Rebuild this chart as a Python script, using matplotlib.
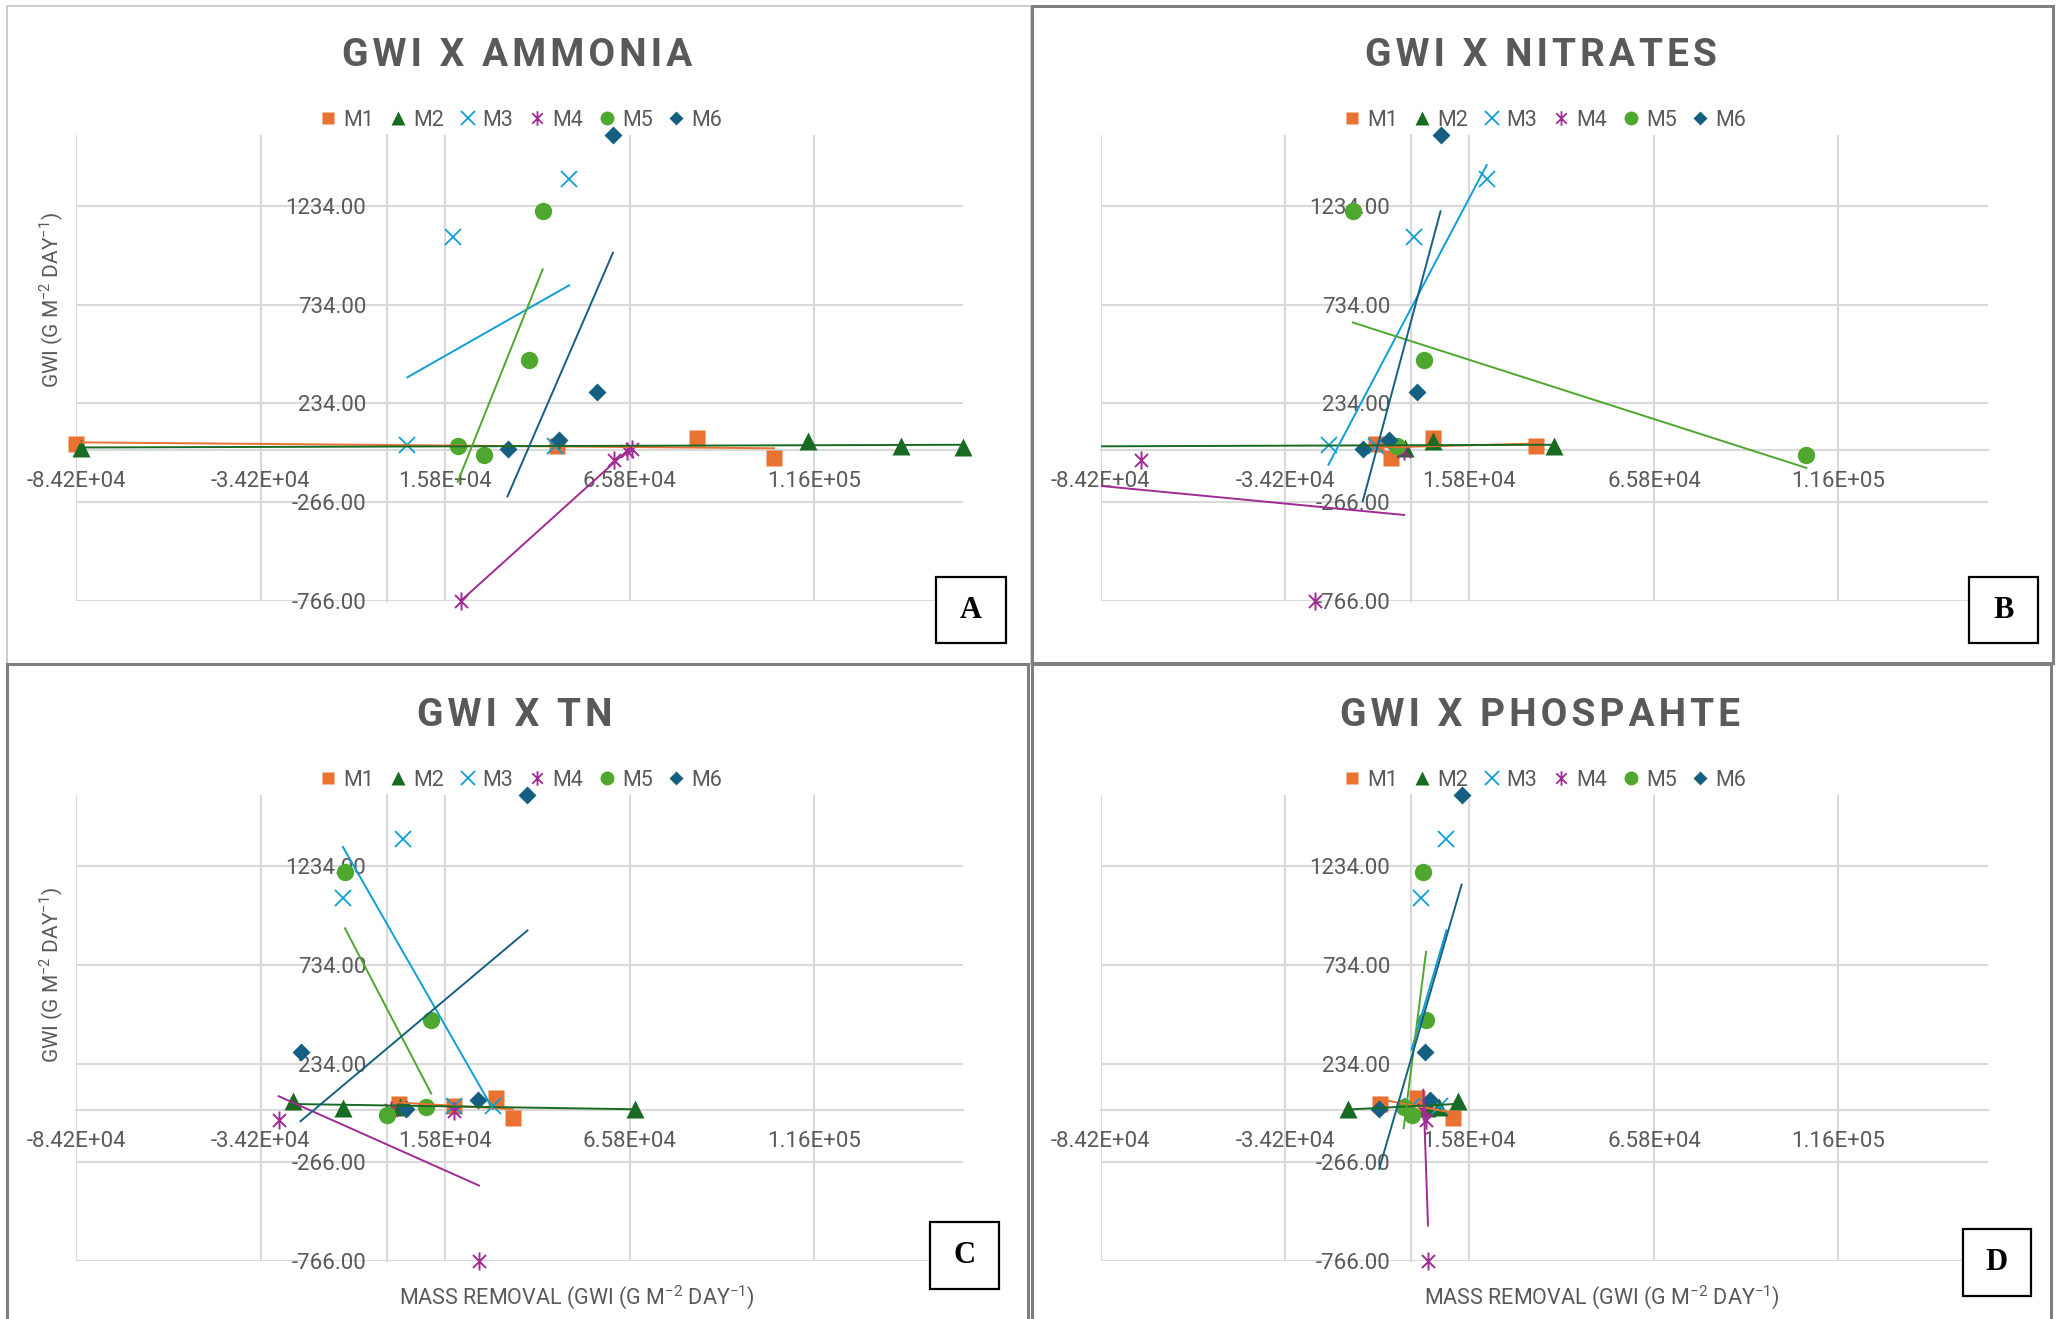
import numpy as np
import matplotlib
matplotlib.use('Agg')
import matplotlib.pyplot as plt
from matplotlib.lines import Line2D
from matplotlib.patches import Rectangle
from matplotlib.path import Path

plt.rcParams['font.family'] = ['Roboto', 'DejaVu Sans']
plt.rcParams['mathtext.fontset'] = 'custom'
plt.rcParams['mathtext.rm'] = 'Roboto'

W, H = 2063, 1319
TXT = '#595959'
GRID = '#d9d9d9'

series = ['M1', 'M2', 'M3', 'M4', 'M5', 'M6']
colors = ['#E97132', '#196B24', '#0F9ED5', '#A02B93', '#4EA72E', '#156082']

# GWI of the four runs of each series (same in every panel)
gwi = [[30, 20, 61, -41],
       [7, 46, 17, 11],
       [1074, 1370, 22, 20],
       [-766, -52, -8, 2],
       [1206, 455, 17, -27],
       [1595, 292, 48, 5]]

# mass removal, one row per series (M1..M6)
ammonia_x = [[-84200, 46155, 83913, 104950],
             [-82940, 114120, 139300, 156200],
             [17926, 49391, 5520, 45440],
             [20084, 61438, 65034, 66300],
             [42200, 38424, 19185, 26197],
             [61258, 56943, 46694, 32670]]
nitrates_x = [[-9545, 33855, 5993, -5437],
              [-1722, 6000, 38677, -160000],
              [634, 20460, -22404, -9438],
              [-26155, -73300, -1900, -185600],
              [-15796, 3493, -3830, 107080],
              [7958, 1530, -5975, -13120]]
tn_x = [[3262, 18185, 29613, 34108],
        [67190, -25585, 3542, -11920],
        [-11920, 4262, 18185, 28713],
        [24940, -29360, 18185, 1047],
        [-11380, 11994, 10556, -62],
        [38064, -23428, 24582, 5164]]
phosphate_x = [[-8470, 4000, 1530, 11350],
               [-17050, 12780, 7420, 4200],
               [2778, 9565, 100, 7780],
               [4560, 4100, 3300, 3500],
               [3314, 4030, -2043, 280],
               [13673, 3850, 5100, -8650]]

titles = ['GWI X AMMONIA', 'GWI X NITRATES', 'GWI X TN', 'GWI X PHOSPAHTE']
letters = ['A', 'B', 'C', 'D']
xticks = [-84200, -34200, 15800, 65800, 115800]
yticks = [-766, -266, 234, 734, 1234]
x_range = (-84200, 156200)
y_range = (-766, 1595)

# excel style star marker (x with a vertical bar)
star = Path([(0, -1), (0, 1), (-0.72, -0.72), (0.72, 0.72), (-0.72, 0.72), (0.72, -0.72)],
            [Path.MOVETO, Path.LINETO, Path.MOVETO, Path.LINETO, Path.MOVETO, Path.LINETO])
marker_style = [dict(marker='s', ms=11.5, mfc=colors[0], mec='none'),
                dict(marker='^', ms=12.5, mfc=colors[1], mec='none'),
                dict(marker='x', ms=12, mfc='none', mec=colors[2], mew=1.3),
                dict(marker=star, ms=13, mfc='none', mec=colors[3], mew=1.4),
                dict(marker='o', ms=12.5, mfc=colors[4], mec='none'),
                dict(marker='D', ms=8.8, mfc=colors[5], mec='none')]
legend_style = [dict(marker='s', ms=9, mfc=colors[0], mec='none'),
                dict(marker='^', ms=10, mfc=colors[1], mec='none'),
                dict(marker='x', ms=9.5, mfc='none', mec=colors[2], mew=1.3),
                dict(marker=star, ms=10.5, mfc='none', mec=colors[3], mew=1.3),
                dict(marker='o', ms=10, mfc=colors[4], mec='none'),
                dict(marker='D', ms=7, mfc=colors[5], mec='none')]


def fx(px):
    return px / W


def fy(py):
    return 1 - py / H


def spaced(t):
    # excel title letter spacing
    return '\u200a'.join(t)


fig = plt.figure(figsize=(W / 100, H / 100), dpi=100)

# panel frames
frames = [((6.6, 6.4, 1031, 664), '#c8c8c8', 1.3),
          ((1032, 6.4, 2053, 663), '#7f7f7f', 2.2),
          ((6.6, 664, 1028, 1330), '#7f7f7f', 2.2),
          ((1032, 664, 2051, 1330), '#7f7f7f', 2.2)]
for (x0, y0, x1, y1), c, lw in frames:
    fig.patches.append(Rectangle((fx(x0), fy(y1)), fx(x1 - x0), (y1 - y0) / H,
                                 transform=fig.transFigure, fill=False, ec=c, lw=lw))

axes_pos = [(76.3, 134.6), (1100.5, 134.6), (76.3, 794.9), (1100.5, 794.9)]
title_pos = [(517, 55), (1541, 55), (515, 716), (1540, 716)]
legend_pos = [(521, 120), (1545, 120), (521, 780), (1545, 780)]
box_pos = [(936, 577, 1006, 643), (1969, 577, 2038, 643),
           (930, 1222, 999, 1289), (1963, 1229, 2031, 1296)]
panel_x = [ammonia_x, nitrates_x, tn_x, phosphate_x]
aw, ah = 887, 466.3

for p in range(4):
    left, top = axes_pos[p]
    ax = fig.add_axes([fx(left), fy(top + ah), aw / W, ah / H])
    ax.set_xlim(x_range)
    ax.set_ylim(y_range)
    ax.set_xticks(xticks)
    ax.set_yticks(yticks)
    ax.set_xticklabels(['%.2E' % v for v in xticks])
    ax.set_yticklabels(['%.2f' % v for v in yticks])
    ax.tick_params(length=0, labelsize=16, labelcolor=TXT)
    ax.tick_params(axis='x', pad=15.5)
    ax.tick_params(axis='y', pad=15)
    for s in ['top', 'right']:
        ax.spines[s].set_visible(False)
    ax.spines['left'].set_position(('data', 0))
    ax.spines['bottom'].set_position(('data', 0))
    for s in ['left', 'bottom']:
        ax.spines[s].set_color(GRID)
        ax.spines[s].set_linewidth(1.5)
        ax.spines[s].set_zorder(1)
    ax.grid(True, color=GRID, lw=1.5, zorder=0)
    ax.set_axisbelow(True)
    ax.patch.set_alpha(0)

    for i in range(6):
        x = np.array(panel_x[p][i], dtype=float)
        y = np.array(gwi[i], dtype=float)
        inside = (x >= x_range[0] - 1) & (x <= x_range[1] + 1)
        ax.plot(x[inside], y[inside], ls='none', clip_on=False, zorder=4, **marker_style[i])
        k, b = np.polyfit(x, y, 1)
        xt = np.array([x.min(), x.max()])
        ax.plot(xt, k * xt + b, color=colors[i], lw=1.4, zorder=5)

    fig.text(fx(title_pos[p][0]), fy(title_pos[p][1]), spaced(titles[p]), ha='center', va='center',
             fontsize=28, fontweight='bold', color=TXT)

    handles = [Line2D([], [], ls='none', **legend_style[i]) for i in range(6)]
    fig.legend(handles, series, loc='center', ncol=6, frameon=False,
               bbox_to_anchor=(fx(legend_pos[p][0]), fy(legend_pos[p][1])),
               fontsize=15.5, labelcolor=TXT, handlelength=0.8, handletextpad=0.3,
               columnspacing=0.7, borderpad=0)

    bx0, by0, bx1, by1 = box_pos[p]
    fig.patches.append(Rectangle((fx(bx0), fy(by1)), fx(bx1 - bx0), (by1 - by0) / H,
                                 transform=fig.transFigure, fill=True, fc='white', ec='black', lw=1.6))
    fig.text(fx((bx0 + bx1) / 2), fy((by0 + by1) / 2), letters[p], ha='center', va='center',
             fontsize=22, fontweight='bold', family='Liberation Serif')

ylab = 'GWI (G M$^{\\mathregular{-2}}$ DAY$^{\\mathregular{-1}}$)'
xlab = 'MASS REMOVAL (GWI (G M$^{\\mathregular{-2}}$ DAY$^{\\mathregular{-1}}$)'
for yy in [300, 975]:
    fig.text(fx(52), fy(yy), ylab, rotation=90, ha='center', va='center', fontsize=15, color=TXT)
for xx in [577, 1602]:
    fig.text(fx(xx), fy(1297), xlab, ha='center', va='center', fontsize=15.5, color=TXT)

fig.savefig('out.png', dpi=100)
